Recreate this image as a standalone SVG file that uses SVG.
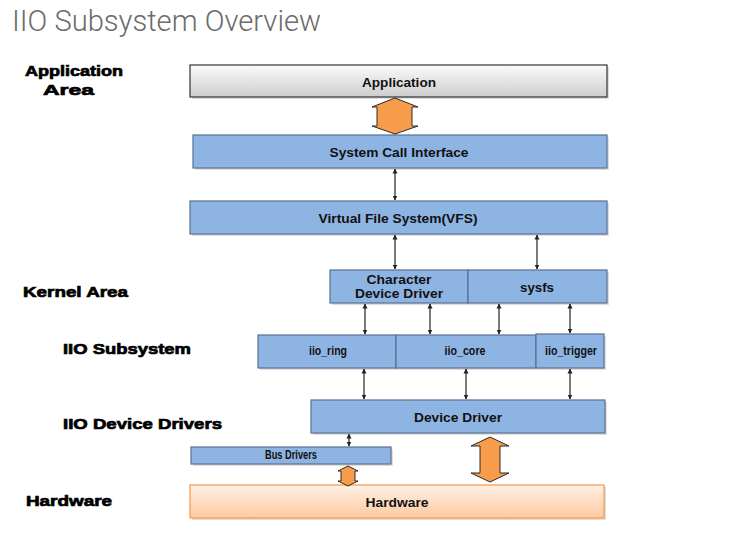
<svg xmlns="http://www.w3.org/2000/svg" width="744" height="534" viewBox="0 0 744 534">
<defs>
<linearGradient id="gApp" x1="0" y1="0" x2="0" y2="1"><stop offset="0" stop-color="#fbfbfb"/><stop offset="1" stop-color="#cdcdcd"/></linearGradient>
<linearGradient id="gHw" x1="0" y1="0" x2="0" y2="1"><stop offset="0" stop-color="#fff1e6"/><stop offset="1" stop-color="#fcc9a1"/></linearGradient>
<marker id="ah" viewBox="0 0 10 10" refX="9" refY="5" markerWidth="5" markerHeight="6" orient="auto-start-reverse" markerUnits="userSpaceOnUse"><path d="M0,0 L10,5 L0,10 Z" fill="#222"/></marker>
</defs>
<style>
.box{fill:#8eb4e3;stroke:#59708f;stroke-width:1.2}
.shadow{fill:#c8c8c8;opacity:0.6}
.t{font-family:"Liberation Sans",Arial,sans-serif;font-weight:bold;font-size:13px;fill:#111;text-anchor:middle}
.lbl{font-family:"Liberation Sans",Arial,sans-serif;font-weight:bold;font-size:15px;fill:#000;stroke:#000;stroke-width:0.7}
.c{stroke:#222;stroke-width:1.2;fill:none;marker-start:url(#ah);marker-end:url(#ah)}
.oa{fill:#f79c4a;stroke:#2a2a2a;stroke-width:1}
</style>
<rect width="744" height="534" fill="#ffffff"/>
<text x="12" y="31" font-family="Roboto,'Open Sans',sans-serif" font-weight="300" font-size="30" fill="#6b6b6b" textLength="309" lengthAdjust="spacingAndGlyphs">IIO Subsystem Overview</text>

<g id="labels">
<text class="lbl" x="25" y="76" textLength="98" lengthAdjust="spacingAndGlyphs">Application</text>
<text class="lbl" x="43" y="95" textLength="51" lengthAdjust="spacingAndGlyphs">Area</text>
<text class="lbl" x="23" y="297" textLength="105" lengthAdjust="spacingAndGlyphs">Kernel Area</text>
<text class="lbl" x="63" y="354" textLength="128" lengthAdjust="spacingAndGlyphs">IIO Subsystem</text>
<text class="lbl" x="63" y="429" textLength="159" lengthAdjust="spacingAndGlyphs">IIO Device Drivers</text>
<text class="lbl" x="26" y="506" textLength="86" lengthAdjust="spacingAndGlyphs">Hardware</text>
</g>

<g id="application">
<rect class="shadow" x="192" y="67" width="417" height="32"/>
<rect x="190" y="65" width="417" height="32" fill="url(#gApp)" stroke="#333" stroke-width="1.2"/>
<text class="t" x="399" y="87" textLength="74" lengthAdjust="spacingAndGlyphs">Application</text>
</g>
<g id="syscall">
<rect class="shadow" x="195" y="137" width="414" height="33"/>
<rect class="box" x="193" y="135" width="414" height="33"/>
<text class="t" x="399" y="157" textLength="139" lengthAdjust="spacingAndGlyphs">System Call Interface</text>
</g>
<g id="vfs">
<rect class="shadow" x="192" y="203" width="417" height="33"/>
<rect class="box" x="190" y="201" width="417" height="33"/>
<text class="t" x="398" y="223" textLength="159" lengthAdjust="spacingAndGlyphs">Virtual File System(VFS)</text>
</g>
<g id="chardev">
<rect class="shadow" x="332" y="272" width="138" height="33"/>
<rect class="box" x="330" y="270" width="138" height="33"/>
<text class="t" x="399" y="284" font-size="10.5" textLength="65" lengthAdjust="spacingAndGlyphs">Character</text>
<text class="t" x="399" y="298" font-size="10.5" textLength="88" lengthAdjust="spacingAndGlyphs">Device Driver</text>
</g>
<g id="sysfs">
<rect class="shadow" x="470" y="272" width="139" height="33"/>
<rect class="box" x="468" y="270" width="139" height="33"/>
<text class="t" x="537" y="292" textLength="34" lengthAdjust="spacingAndGlyphs">sysfs</text>
</g>
<g id="iio_ring">
<rect class="shadow" x="260" y="337" width="138" height="33"/>
<rect class="box" x="258" y="335" width="138" height="33"/>
<text class="t" x="328" y="355" font-size="11" textLength="38" lengthAdjust="spacingAndGlyphs">iio_ring</text>
</g>
<g id="iio_core">
<rect class="shadow" x="398" y="337" width="140" height="33"/>
<rect class="box" x="396" y="335" width="140" height="33"/>
<text class="t" x="465" y="355" font-size="11" textLength="41" lengthAdjust="spacingAndGlyphs">iio_core</text>
</g>
<g id="iio_trigger">
<rect class="shadow" x="538" y="336" width="68" height="34"/>
<rect class="box" x="536" y="334" width="68" height="34"/>
<text class="t" x="571" y="355" font-size="11" textLength="52" lengthAdjust="spacingAndGlyphs">iio_trigger</text>
</g>
<g id="device_driver">
<rect class="shadow" x="313" y="402" width="294" height="33"/>
<rect class="box" x="311" y="400" width="294" height="33"/>
<text class="t" x="458" y="422" textLength="88" lengthAdjust="spacingAndGlyphs">Device Driver</text>
</g>
<g id="bus_drivers">
<rect class="shadow" x="193" y="449" width="200" height="17"/>
<rect class="box" x="191" y="447" width="200" height="17"/>
<text class="t" x="291" y="459" font-size="8" textLength="52" lengthAdjust="spacingAndGlyphs">Bus Drivers</text>
</g>
<g id="hardware">
<rect class="shadow" x="192" y="487" width="414" height="33"/>
<rect x="190" y="485" width="414" height="33" fill="url(#gHw)" stroke="#f79646" stroke-width="1.2"/>
<text class="t" x="397" y="507" font-size="14" textLength="63" lengthAdjust="spacingAndGlyphs">Hardware</text>
</g>

<g id="connectors">
<path class="oa" d="M395,98 L418,107 L412,107 L412,126 L418,126 L395,134 L372,126 L377,126 L377,107 L372,107 Z"/>
<line class="c" x1="395" y1="169" x2="395" y2="200"/>
<line class="c" x1="395" y1="235" x2="395" y2="269"/>
<line class="c" x1="537" y1="235" x2="537" y2="269"/>
<line class="c" x1="365" y1="304" x2="365" y2="334"/>
<line class="c" x1="430" y1="304" x2="430" y2="334"/>
<line class="c" x1="499" y1="304" x2="499" y2="334"/>
<line class="c" x1="570" y1="304" x2="570" y2="333"/>
<line class="c" x1="364" y1="369" x2="364" y2="399"/>
<line class="c" x1="466" y1="369" x2="466" y2="399"/>
<line class="c" x1="570" y1="369" x2="570" y2="399"/>
<line class="c" x1="349" y1="434" x2="349" y2="446"/>
<path class="oa" d="M348,466 L358,471 L355,471 L355,481 L358,481 L348,486 L338,481 L341,481 L341,471 L338,471 Z"/>
<path class="oa" d="M490,437 L509,446 L500,446 L500,473 L509,473 L490,482 L471,473 L480,473 L480,446 L471,446 Z"/>
</g>
</svg>
